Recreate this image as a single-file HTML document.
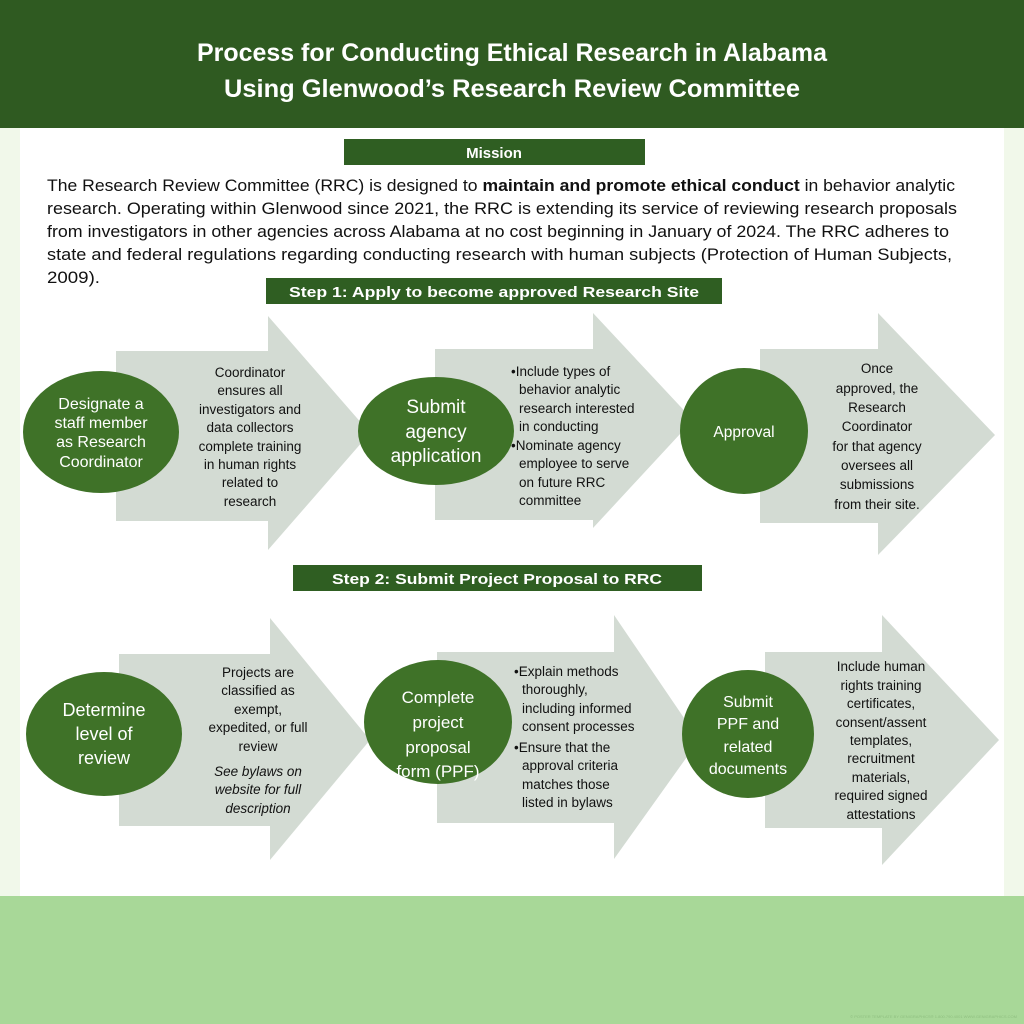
<!DOCTYPE html>
<html><head><meta charset="utf-8"><style>
html,body{margin:0;padding:0}
body{width:1024px;height:1024px;overflow:hidden;background:#f1f8ea}
svg{display:block;font-family:"Liberation Sans",sans-serif}
</style></head><body>
<svg width="1024" height="1024" viewBox="0 0 1024 1024" xmlns="http://www.w3.org/2000/svg">
<rect x="0" y="0" width="1024" height="1024" fill="#f1f8ea"/>
<rect x="0" y="0" width="1024" height="128" fill="#2f5a21"/>
<rect x="20" y="128" width="984" height="768" fill="#ffffff"/>
<rect x="0" y="896" width="1024" height="128" fill="#a8d898"/>
<g fill="#fff" font-weight="bold" font-size="25" text-anchor="middle">
<text x="512" y="61" textLength="630" lengthAdjust="spacingAndGlyphs">Process for Conducting Ethical Research in Alabama</text>
<text x="512" y="97" textLength="576" lengthAdjust="spacingAndGlyphs">Using Glenwood’s Research Review Committee</text>
</g>
<rect x="344" y="139" width="301" height="26" fill="#2f5e22"/>
<text x="494" y="158" fill="#fff" font-weight="bold" font-size="15" text-anchor="middle">Mission</text>
<g font-size="16.5" fill="#111">
<text x="47" y="191" textLength="908" lengthAdjust="spacingAndGlyphs">The Research Review Committee (RRC) is designed to <tspan font-weight="bold">maintain and promote ethical conduct</tspan> in behavior analytic</text>
<text x="47" y="214" textLength="910" lengthAdjust="spacingAndGlyphs">research. Operating within Glenwood since 2021, the RRC is extending its service of reviewing research proposals</text>
<text x="47" y="237" textLength="902" lengthAdjust="spacingAndGlyphs">from investigators in other agencies across Alabama at no cost beginning in January of 2024. The RRC adheres to</text>
<text x="47" y="260" textLength="905" lengthAdjust="spacingAndGlyphs">state and federal regulations regarding conducting research with human subjects (Protection of Human Subjects,</text>
<text x="47" y="283" textLength="53" lengthAdjust="spacingAndGlyphs">2009).</text>
</g>
<rect x="266" y="278" width="456" height="26" fill="#2f5e22"/>
<text x="494" y="297" fill="#fff" font-weight="bold" font-size="15" text-anchor="middle" textLength="410" lengthAdjust="spacingAndGlyphs">Step 1: Apply to become approved Research Site</text>
<rect x="293" y="565" width="409" height="26" fill="#2f5e22"/>
<text x="497" y="584" fill="#fff" font-weight="bold" font-size="15" text-anchor="middle" textLength="330" lengthAdjust="spacingAndGlyphs">Step 2: Submit Project Proposal to RRC</text>
<g fill="#d3dbd3">
<polygon points="116,351 268,351 268,316 370,433 268,550 268,521 116,521"/>
<polygon points="435,349 593,349 593,313 693,420 593,528 593,520 435,520"/>
<polygon points="760,349 878,349 878,313 995,435 878,555 878,523 760,523"/>
<polygon points="119,654 270,654 270,618 370,740 270,860 270,826 119,826"/>
<polygon points="437,652 614,652 614,615 699,740 614,859 614,823 437,823"/>
<polygon points="765,652 882,652 882,615 999,740 882,865 882,828 765,828"/>
</g>
<g fill="#3f7228">
<ellipse cx="101" cy="432" rx="78" ry="61"/>
<ellipse cx="436" cy="431" rx="78" ry="54"/>
<ellipse cx="744" cy="431" rx="64" ry="63"/>
<ellipse cx="104" cy="734" rx="78" ry="62"/>
<ellipse cx="438" cy="722" rx="74" ry="62"/>
<ellipse cx="748" cy="734" rx="66" ry="64"/>
</g>
<g fill="#fff" text-anchor="middle">
<g font-size="16"><text x="101" y="409">Designate a</text><text x="101" y="428">staff member</text><text x="101" y="447">as Research</text><text x="101" y="467">Coordinator</text></g>
<g font-size="19"><text x="436" y="413">Submit</text><text x="436" y="438">agency</text><text x="436" y="462">application</text></g>
<text x="744" y="437" font-size="15.5">Approval</text>
<g font-size="18"><text x="104" y="716">Determine</text><text x="104" y="740">level of</text><text x="104" y="764">review</text></g>
<g font-size="17"><text x="438" y="703">Complete</text><text x="438" y="728">project</text><text x="438" y="753">proposal</text><text x="438" y="777">form (PPF)</text></g>
<g font-size="16"><text x="748" y="707">Submit</text><text x="748" y="729">PPF and</text><text x="748" y="752">related</text><text x="748" y="774">documents</text></g>
</g>
<g fill="#111" font-size="13.5">
<g text-anchor="middle">
<text x="250" y="377">Coordinator</text><text x="250" y="395">ensures all</text><text x="250" y="414">investigators and</text><text x="250" y="432">data collectors</text><text x="250" y="451">complete training</text><text x="250" y="469">in human rights</text><text x="250" y="487">related to</text><text x="250" y="506">research</text>
<text x="877" y="373">Once</text><text x="877" y="393">approved, the</text><text x="877" y="412">Research</text><text x="877" y="431">Coordinator</text><text x="877" y="451">for that agency</text><text x="877" y="470">oversees all</text><text x="877" y="489">submissions</text><text x="877" y="509">from their site.</text>
<text x="258" y="677">Projects are</text><text x="258" y="695">classified as</text><text x="258" y="714">exempt,</text><text x="258" y="732">expedited, or full</text><text x="258" y="751">review</text>
<g font-style="italic"><text x="258" y="776">See bylaws on</text><text x="258" y="794">website for full</text><text x="258" y="813">description</text></g>
<text x="881" y="671">Include human</text><text x="881" y="690">rights training</text><text x="881" y="708">certificates,</text><text x="881" y="727">consent/assent</text><text x="881" y="745">templates,</text><text x="881" y="763">recruitment</text><text x="881" y="782">materials,</text><text x="881" y="800">required signed</text><text x="881" y="819">attestations</text>
</g>
<text x="511" y="376">•Include types of</text><text x="519" y="394">behavior analytic</text><text x="519" y="413">research interested</text><text x="519" y="431">in conducting</text><text x="511" y="450">•Nominate agency</text><text x="519" y="468">employee to serve</text><text x="519" y="487">on future RRC</text><text x="519" y="505">committee</text>
<text x="514" y="676">•Explain methods</text><text x="522" y="694">thoroughly,</text><text x="522" y="713">including informed</text><text x="522" y="731">consent processes</text><text x="514" y="752">•Ensure that the</text><text x="522" y="770">approval criteria</text><text x="522" y="789">matches those</text><text x="522" y="807">listed in bylaws</text>
</g>
<text x="1017" y="1018" fill="#8fbf80" font-size="4" text-anchor="end">© POSTER TEMPLATE BY GENIGRAPHICS® 1.800.790.4001 WWW.GENIGRAPHICS.COM</text>
</svg>
</body></html>
